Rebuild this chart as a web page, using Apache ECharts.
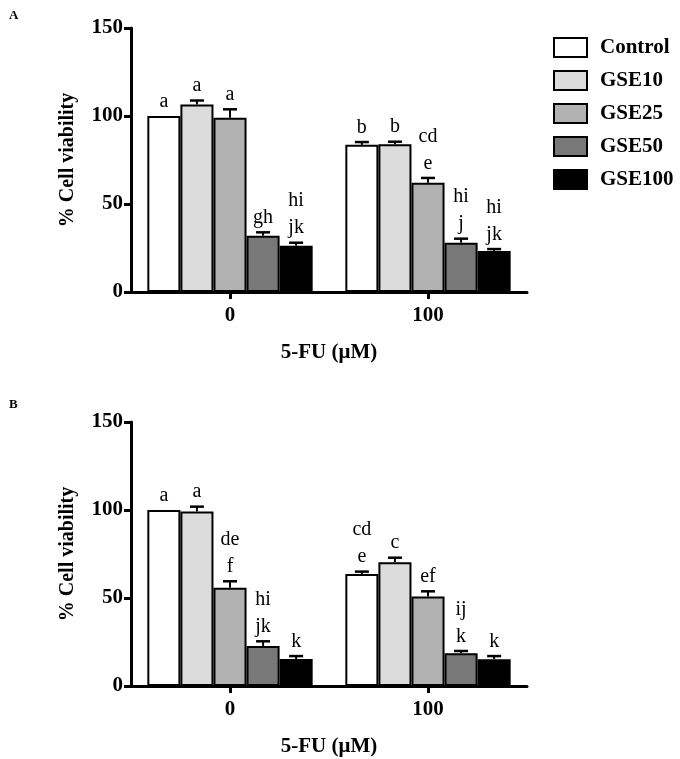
<!DOCTYPE html>
<html><head><meta charset="utf-8">
<script src="https://cdn.jsdelivr.net/npm/echarts@6/dist/echarts.min.js"></script>
<style>html,body{margin:0;padding:0;background:#fff}#c{width:680px;height:759px}</style>
</head><body><div id="c"></div>
<script>
const categories = ['0', '100'];
const seriesNames = ['Control', 'GSE10', 'GSE25', 'GSE50', 'GSE100'];
const yTicks = [0, 50, 100, 150];
// Panel A: values per series for [0, 100]
const valuesA = { Control: [100, 83.6], GSE10: [106.6, 84], GSE25: [99, 62.1], GSE50: [32, 28], GSE100: [26.3, 23.3] };
const errorsA = { Control: [0, 1.6], GSE10: [2.2, 1.4], GSE25: [4.8, 2.7], GSE50: [1.9, 2.3], GSE100: [1.7, 1.1] };
const lettersA = { Control: ['a', 'b'], GSE10: ['a', 'b'], GSE25: ['a', 'cd\ne'], GSE50: ['gh', 'hi\nj'], GSE100: ['hi\njk', 'hi\njk'] };
// Panel B
const valuesB = { Control: [100, 63.6], GSE10: [99.2, 70.3], GSE25: [55.8, 50.8], GSE50: [22.7, 18.6], GSE100: [15.3, 15.2] };
const errorsB = { Control: [0, 1.4], GSE10: [2.7, 2.6], GSE25: [3.7, 3.0], GSE50: [2.7, 1.3], GSE100: [1.7, 1.8] };
const lettersB = { Control: ['a', 'cd\ne'], GSE10: ['a', 'c'], GSE25: ['de\nf', 'ef'], GSE50: ['hi\njk', 'ij\nk'], GSE100: ['k', 'k'] };

const colors = ['#ffffff', '#dcdcdc', '#b2b2b2', '#787878', '#000000'];
const SERIF = '"Liberation Serif", "DejaVu Serif", serif';

const chart = echarts.init(document.getElementById('c'), null, { renderer: 'canvas' });

function buildFlat(vals, errs, lets) {
  const out = [];
  seriesNames.forEach((n, s) => {
    categories.forEach((c, ci) => {
      out.push({ s: s, cat: ci, val: vals[n][ci], err: errs[n][ci], lab: lets[n][ci] });
    });
  });
  return out;
}
const flatA = buildFlat(valuesA, errorsA, lettersA);
const flatB = buildFlat(valuesB, errorsB, lettersB);

function errSeries(flat, idx) {
  return {
    type: 'custom', xAxisIndex: idx, yAxisIndex: idx, z: 5, silent: true,
    data: flat.map(d => [d.cat, d.val + d.err]),
    renderItem: function (params, api) {
      const d = flat[params.dataIndex];
      const base = api.coord([d.cat, d.val]);
      const top = api.coord([d.cat, d.val + d.err]);
      const bw = api.size([1, 0])[0] * 0.835 / 5;
      const x = base[0] + (d.s - 2) * bw;
      const children = [];
      if (d.err > 0) {
        children.push({ type: 'line', shape: { x1: x, y1: base[1], x2: x, y2: top[1] }, style: { stroke: '#000', lineWidth: 2 } });
        children.push({ type: 'line', shape: { x1: x - 7, y1: top[1], x2: x + 7, y2: top[1] }, style: { stroke: '#000', lineWidth: 2.5 } });
      }
      children.push({ type: 'text', style: { text: d.lab, x: x, y: top[1] - 1, textAlign: 'center', textVerticalAlign: 'bottom', font: '20px ' + SERIF, lineHeight: 27, fill: '#000' } });
      return { type: 'group', children: children };
    }
  };
}

function barSeries(vals, idx) {
  return seriesNames.map((n, s) => ({
    name: n, type: 'bar', xAxisIndex: idx, yAxisIndex: idx,
    data: vals[n], barGap: '0%', barCategoryGap: '16.5%',
    itemStyle: { color: colors[s], borderColor: '#000', borderWidth: 2 },
    silent: true, animation: false
  }));
}

function xAxis(idx) {
  return {
    type: 'category', gridIndex: idx, data: categories,
    name: '5-FU (μM)', nameLocation: 'middle', nameGap: 50,
    nameTextStyle: { fontFamily: SERIF, fontWeight: 'bold', fontSize: 21, color: '#000' },
    axisLine: { lineStyle: { color: '#000', width: 3 } },
    axisTick: { show: true, alignWithLabel: true, length: 7, lineStyle: { color: '#000', width: 3 } },
    axisLabel: { fontFamily: SERIF, fontWeight: 'bold', fontSize: 21, color: '#000', margin: 13 },
    splitLine: { show: false }
  };
}
function yAxis(idx) {
  return {
    type: 'value', gridIndex: idx, min: yTicks[0], max: yTicks[yTicks.length - 1], interval: 50,
    name: '% Cell viability', nameLocation: 'middle', nameGap: 53,
    nameTextStyle: { fontFamily: SERIF, fontWeight: 'bold', fontSize: 20, color: '#000' },
    axisLine: { show: true, lineStyle: { color: '#000', width: 3 } },
    axisTick: { show: true, length: 7, lineStyle: { color: '#000', width: 3 } },
    axisLabel: { fontFamily: SERIF, fontWeight: 'bold', fontSize: 21, color: '#000', margin: 8 },
    splitLine: { show: false }
  };
}

const option = {
  animation: false,
  backgroundColor: '#fff',
  grid: [
    { left: 131, top: 28, width: 396, height: 264 },
    { left: 131, top: 422, width: 396, height: 264 }
  ],
  xAxis: [xAxis(0), xAxis(1)],
  yAxis: [yAxis(0), yAxis(1)],
  legend: {
    data: seriesNames, orient: 'vertical', left: 553, top: 37, padding: 0,
    itemWidth: 33, itemHeight: 19, itemGap: 12, icon: 'rect', selectedMode: false,
    textStyle: { fontFamily: SERIF, fontWeight: 'bold', fontSize: 21, color: '#000', padding: [0, 0, 0, 8] }
  },
  graphic: [
    { type: 'text', left: 9, top: 9, style: { text: 'A', font: 'bold 13px ' + SERIF, fill: '#000' } },
    { type: 'text', left: 9, top: 398, style: { text: 'B', font: 'bold 13px ' + SERIF, fill: '#000' } }
  ],
  series: [].concat(barSeries(valuesA, 0), barSeries(valuesB, 1), [errSeries(flatA, 0), errSeries(flatB, 1)])
};
chart.setOption(option);
</script></body></html>
